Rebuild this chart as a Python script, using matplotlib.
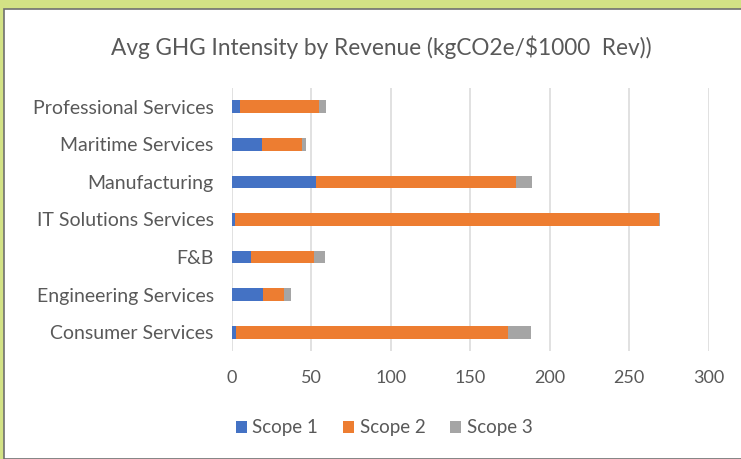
import numpy as np
import matplotlib
matplotlib.use('Agg')
import matplotlib.pyplot as plt
from matplotlib.patches import Rectangle

plt.rcParams['font.family'] = ['Lato', 'DejaVu Sans']

# Sectors, listed bottom to top as they appear in the chart.
sectors = ['Consumer Services', 'Engineering Services', 'F&B', 'IT Solutions Services',
           'Manufacturing', 'Maritime Services', 'Professional Services']
scope1 = [3, 20, 12, 2, 53, 19, 5]
scope2 = [171, 13, 40, 266.5, 126, 25.5, 50]
scope3 = [14, 4, 6.5, 1, 10, 2, 4.5]

xticks = [0, 50, 100, 150, 200, 250, 300]
series_names = ['Scope 1', 'Scope 2', 'Scope 3']
colors = ['#4472C4', '#ED7D31', '#A5A5A5']
txt = '#595959'

fig = plt.figure(figsize=(7.41, 4.59), dpi=100, facecolor='#d3e285')
# white chart panel with a thin dark border on top/left
panel = Rectangle((4/741, 0), 1, 1 - 9/459, transform=fig.transFigure,
                  facecolor='white', edgecolor='#707070', linewidth=1.2, zorder=-10)
fig.add_artist(panel)

ax = fig.add_axes([231.7/741, 1 - 351/459, 477/741, 263/459])
ax.set_facecolor('none')

y = np.arange(len(sectors))
h = 0.34
left = np.zeros(len(sectors))
for vals, name, c in zip([scope1, scope2, scope3], series_names, colors):
    ax.barh(y, vals, height=h, left=left, color=c, label=name, zorder=3)
    left = left + np.array(vals)

ax.set_xlim(0, 300)
ax.set_ylim(-0.5, len(sectors) - 0.5)
ax.set_xticks(xticks)
ax.set_yticks(y)
ax.set_yticklabels(sectors)
ax.grid(axis='x', color='#d9d9d9', linewidth=1.1, zorder=0)
ax.set_axisbelow(True)
for s in ax.spines.values():
    s.set_visible(False)
ax.tick_params(axis='both', length=0, labelcolor=txt)
ax.tick_params(axis='y', pad=13, labelsize=14)
ax.tick_params(axis='x', pad=14, labelsize=13)

fig.text(381/741, 1 - 47/459, 'Avg GHG Intensity by Revenue (kgCO2e/$1000  Rev))',
         ha='center', va='center', fontsize=16.3, color=txt)

fig.legend(loc='center', bbox_to_anchor=(384/741, 1 - 428/459), ncol=3, frameon=False,
           fontsize=13.5, labelcolor=txt, handlelength=0.6, handleheight=0.6,
           handletextpad=0.3, columnspacing=1.3)

fig.savefig('out.png', dpi=100, facecolor=fig.get_facecolor())
